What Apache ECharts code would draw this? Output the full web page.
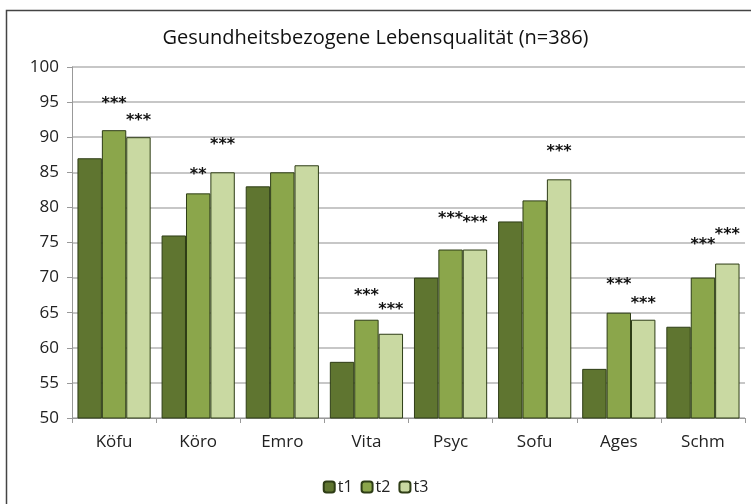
<!DOCTYPE html>
<html>
<head>
<meta charset="utf-8">
<script src="https://cdn.jsdelivr.net/npm/echarts@6/dist/echarts.min.js"></script>
<style>
  html, body { margin: 0; padding: 0; background: #fff; }
  #chart { width: 751px; height: 504px; }
</style>
</head>
<body>
<div id="chart"></div>
<script>
// Daten
const categories = ['Köfu', 'Köro', 'Emro', 'Vita', 'Psyc', 'Sofu', 'Ages', 'Schm'];
const t1 = [87, 76, 83, 58, 70, 78, 57, 63];
const t2 = [91, 82, 85, 64, 74, 81, 65, 70];
const t3 = [90, 85, 86, 62, 74, 84, 64, 72];

// Signifikanz-Sterne: [Kategorie-Index, Höhe (Achsenwert), Text]
const starsT2 = [[0, 94.7, '***'], [1, 84.6, '**'], [3, 67.4, '***'], [4, 78.3, '***'], [6, 69.0, '***'], [7, 74.6, '***']];
const starsT3 = [[0, 92.4, '***'], [1, 88.9, '***'], [3, 65.4, '***'], [4, 77.8, '***'], [5, 87.9, '***'], [6, 66.2, '***'], [7, 76.1, '***']];

const colors = ['#5f7530', '#8ba64b', '#c9d9a2'];

const marks = (list) => ({
  symbol: 'rect',
  symbolSize: 1,
  itemStyle: { color: 'rgba(0,0,0,0)' },
  label: { show: true, position: 'inside', color: '#111', fontSize: 16, fontWeight: 'bold', fontFamily: 'DejaVu Sans', formatter: (p) => p.name },
  data: list.map(s => ({ name: s[2], coord: [s[0], s[1]] })),
});

const barSeries = (name, data, color, stars) => ({
  name: name,
  type: 'bar',
  data: data,
  barGap: '0%',
  barCategoryGap: '13%',
  itemStyle: { color: color, borderColor: '#2e3d16', borderWidth: 1 },
  markPoint: stars ? marks(stars) : undefined,
});

const chart = echarts.init(document.getElementById('chart'));
chart.setOption({
  animation: false,
  color: colors,
  textStyle: { fontFamily: 'Open Sans' },
  title: {
    text: 'Gesundheitsbezogene Lebensqualität (n=386)',
    left: 'center', top: 23,
    textStyle: { fontSize: 20, fontWeight: 'normal', color: '#111' },
  },
  graphic: [{
    type: 'rect',
    shape: { x: 6.5, y: 10.5, width: 760, height: 520 },
    style: { fill: 'none', stroke: '#444', lineWidth: 1.5 },
    silent: true,
  }],
  legend: {
    bottom: 4, left: 'center',
    itemWidth: 11, itemHeight: 11, itemGap: 8,
    textStyle: { fontSize: 16, color: '#222', padding: [0, 0, 0, -2] },
    data: ['t1', 't2', 't3'],
  },
  grid: { left: 72, right: 6, top: 67, bottom: 86 },
  xAxis: {
    type: 'category',
    data: categories,
    axisLine: { lineStyle: { color: '#999' } },
    axisTick: { show: true, length: 5, lineStyle: { color: '#999' } },
    axisLabel: { fontSize: 17, color: '#222', margin: 16 },
  },
  yAxis: {
    type: 'value',
    min: 50, max: 100, interval: 5,
    axisLine: { show: true, lineStyle: { color: '#999' } },
    axisTick: { show: true, length: 5, lineStyle: { color: '#999' } },
    axisLabel: { fontSize: 17, color: '#222', margin: 13 },
    splitLine: { lineStyle: { color: '#b5b5b5', width: 1.5 } },
  },
  series: [
    barSeries('t1', t1, colors[0], null),
    barSeries('t2', t2, colors[1], starsT2),
    barSeries('t3', t3, colors[2], starsT3),
  ],
});
</script>
</body>
</html>
